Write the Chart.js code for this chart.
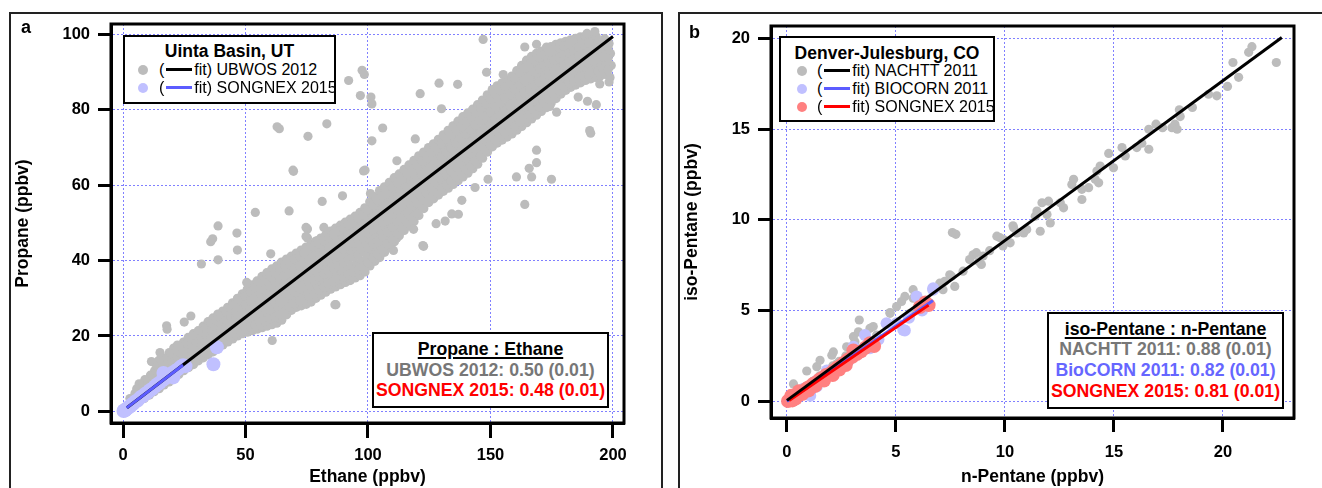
<!DOCTYPE html>
<html>
<head>
<meta charset="utf-8">
<script src="https://cdn.jsdelivr.net/npm/chart.js@4.4.0/dist/chart.umd.min.js"></script>
<style>
  body { margin: 0; background: #fff; width: 1322px; height: 488px; overflow: hidden; position: relative; font-family: "Liberation Sans", Arial, sans-serif; }
  .panel { position: absolute; border: 2px solid #222; border-bottom: none; box-sizing: border-box; }
  canvas { position: absolute; }
  .tag { position: absolute; font-weight: bold; font-size: 18px; line-height: 20px; }
  .key { position: absolute; border: 2px solid #000; background: #fff; box-sizing: border-box; }
  .key .ttl { position: absolute; left: 0; right: 0; text-align: center; font-weight: bold; font-size: 17.5px; line-height: 20px; white-space: nowrap; }
  .key .row { position: absolute; left: 0; right: 0; height: 18px; font-size: 16px; line-height: 18px; white-space: nowrap; }
  .key .dot { position: absolute; top: 4px; width: 10px; height: 10px; border-radius: 50%; }
  .key .txt { position: absolute; top: 0; }
  .seg { display: inline-block; width: 26px; height: 3px; vertical-align: middle; margin: 0 2px 2px 2px; }
  .ratio { position: absolute; border: 2px solid #000; background: #fff; box-sizing: border-box; font-weight: bold; font-size: 17.7px; }
  .ratio div { position: absolute; left: 0; right: 0; text-align: center; line-height: 20px; white-space: nowrap; }
</style>
</head>
<body>
<div class="panel" style="left:9px;top:12px;width:654px;height:480px"></div>
<div class="panel" style="left:678px;top:12px;width:660px;height:480px"></div>
<canvas id="chartA" width="650" height="474" style="left:11px;top:14px"></canvas>
<canvas id="chartB" width="642" height="474" style="left:680px;top:14px"></canvas>

<div class="tag" style="left:21px;top:17px">a</div>
<div class="tag" style="left:689px;top:22px">b</div>

<div class="key" style="left:123px;top:35px;width:213px;height:69px">
  <div class="ttl" style="top:4px">Uinta Basin, UT</div>
  <div class="row" style="top:24px"><span class="dot" style="left:13px;background:#bcbcbc"></span><span class="txt" style="left:34px">(<span class="seg" style="background:#000"></span>fit) UBWOS 2012</span></div>
  <div class="row" style="top:42px"><span class="dot" style="left:13px;background:#c0c0ff"></span><span class="txt" style="left:34px">(<span class="seg" style="background:#5c5cff"></span>fit) SONGNEX 2015</span></div>
</div>

<div class="key" style="left:779px;top:36px;width:216px;height:86px">
  <div class="ttl" style="top:5px">Denver-Julesburg, CO</div>
  <div class="row" style="top:24px"><span class="dot" style="left:16px;background:#bcbcbc"></span><span class="txt" style="left:36px">(<span class="seg" style="background:#000"></span>fit) NACHTT 2011</span></div>
  <div class="row" style="top:42px"><span class="dot" style="left:16px;background:#c0c0ff"></span><span class="txt" style="left:36px">(<span class="seg" style="background:#5c5cff"></span>fit) BIOCORN 2011</span></div>
  <div class="row" style="top:60px"><span class="dot" style="left:16px;background:#ff8080"></span><span class="txt" style="left:36px">(<span class="seg" style="background:#ff0000"></span>fit) SONGNEX 2015</span></div>
</div>

<div class="ratio" style="left:372px;top:332px;width:237px;height:76px">
  <div style="top:5px;text-decoration:underline;text-decoration-thickness:2px;text-underline-offset:2px">Propane : Ethane</div>
  <div style="top:25.5px;color:#777">UBWOS 2012: 0.50 (0.01)</div>
  <div style="top:46px;color:#ff0000">SONGNEX 2015: 0.48 (0.01)</div>
</div>

<div class="ratio" style="left:1047px;top:312px;width:237px;height:97px">
  <div style="top:5px;text-decoration:underline;text-decoration-thickness:2px;text-underline-offset:2px">iso-Pentane : n-Pentane</div>
  <div style="top:25px;color:#777">NACHTT 2011: 0.88 (0.01)</div>
  <div style="top:45.5px;color:#6666ff">BioCORN 2011: 0.82 (0.01)</div>
  <div style="top:66.5px;color:#ff0000">SONGNEX 2015: 0.81 (0.01)</div>
</div>

<script>
const FONT = '"Liberation Sans", Arial, sans-serif';

// panel a: propane vs ethane, Uinta Basin
const ethaneTicks = [0, 50, 100, 150, 200];
const propaneTicks = [0, 20, 40, 60, 80, 100];
const ubwosFit = [[1.6, 0.95], [200, 99.5]];
const songnexFitA = [[1.5, 0.9], [24.5, 12.3]];

const ubwos2012 = [
  [0.8,0.3],[1.2,0.9],[1.5,0.5],[2.0,1.2],[2.6,1.0],[3.0,1.8],[3.4,2.6],[2.8,3.4],
  [4.6,1.8],[5.1,2.6],[5.3,3.6],[4.9,4.8],[5.6,6.0],[6.8,2.6],[7.2,3.5],[7.0,4.6],[7.5,6.2],[6.6,7.3],
  [8.7,3.4],[9.2,4.5],[9.0,5.6],[9.4,7.0],[8.9,8.4],[10.8,4.3],[11.3,5.4],[11.0,6.6],[11.5,8.0],[11.2,9.6],
  [12.7,5.2],[13.2,6.3],[13.0,7.5],[13.4,9.0],[12.9,10.8],[13.6,12.4],
  [14.8,6.0],[15.3,7.2],[15.0,8.4],[15.5,10.0],[15.1,11.8],[14.6,13.5],
  [16.8,7.0],[17.3,8.2],[17.0,9.4],[17.6,11.0],[17.2,12.6],[16.7,14.2],
  [18.8,7.8],[19.3,9.2],[19.0,10.4],[19.5,12.0],[19.1,13.6],[18.9,15.6],
  [20.8,8.8],[21.2,10.2],[21.0,11.4],[21.5,13.0],[21.3,14.8],[20.7,16.8],
  [22.8,9.8],[23.3,11.0],[23.0,12.4],[23.5,14.0],[23.2,15.6],[22.6,17.4],
  [24.8,10.8],[25.3,12.0],[25.0,13.4],[25.5,15.0],[25.2,16.6],[24.7,18.4],
  [26.8,11.6],[27.3,13.0],[27.0,14.4],[27.6,16.0],[27.2,17.8],[26.6,19.6],
  [28.8,12.4],[29.3,14.0],[29.0,15.4],[29.6,17.0],[29.2,18.8],[28.7,20.6],
  [30.8,13.4],[31.3,15.0],[31.0,16.4],[31.6,18.0],[31.2,19.8],[30.7,21.4],
  [32.8,14.2],[33.3,15.8],[33.0,17.2],[33.6,19.0],[33.2,20.8],[32.7,22.6],
  [34.8,15.0],[35.3,16.8],[35.0,18.2],[35.6,20.0],[35.2,21.8],[34.7,23.8],
  [36.8,15.8],[37.3,17.6],[37.0,19.2],[37.6,21.0],[37.2,22.8],[36.7,24.8],
  [38.8,16.8],[39.3,18.6],[39.0,20.2],[39.6,22.0],[39.2,23.8],[38.7,25.8],
  [40.8,17.6],[41.3,19.4],[41.0,21.0],[41.6,22.8],[41.2,24.8],[40.7,26.6],
  [42.8,18.4],[43.3,20.2],[43.0,22.0],[43.6,23.8],[43.2,25.8],[42.7,27.6],
  [44.8,19.2],[45.3,21.2],[45.0,23.0],[45.6,24.8],[45.2,26.8],[44.7,28.8],
  [46.8,20.0],[47.3,22.0],[47.0,24.0],[47.6,25.8],[47.2,27.8],[46.7,30.0],
  [48.8,20.6],[49.3,22.8],[49.0,24.8],[49.6,26.8],[49.2,28.8],[48.7,31.2],
  [50.8,21.0],[51.3,23.4],[51.0,25.6],[51.6,27.8],[51.2,30.0],[50.7,32.4],
  [52.8,21.4],[53.3,24.0],[53.0,26.4],[53.6,28.6],[53.2,31.0],[52.7,33.6],
  [54.8,21.8],[55.3,24.6],[55.0,27.4],[55.6,29.6],[55.2,32.0],[54.7,34.6],
  [56.8,22.2],[57.3,25.2],[57.0,28.2],[57.6,30.4],[57.2,33.0],[56.7,35.8],
  [58.8,22.6],[59.3,25.8],[59.0,29.0],[59.6,31.4],[59.2,34.0],[58.7,36.8],
  [60.8,23.0],[61.3,26.6],[61.0,29.8],[61.6,32.4],[61.2,35.0],[60.7,37.8],
  [62.8,23.4],[63.3,27.4],[63.0,30.6],[63.6,33.4],[63.2,36.0],[62.7,38.6],
  [64.8,24.2],[65.3,28.0],[65.0,31.4],[65.6,34.2],[65.2,37.0],[64.7,39.6],
  [66.8,25.6],[67.3,28.8],[67.0,32.2],[67.6,35.0],[67.2,38.0],[66.7,40.4],
  [68.8,26.8],[69.3,29.6],[69.0,33.0],[69.6,36.0],[69.2,38.8],[68.7,41.2],
  [70.8,27.6],[71.3,30.4],[71.0,33.8],[71.6,36.8],[71.2,39.6],[70.7,42.0],
  [72.8,28.0],[73.3,31.2],[73.0,34.6],[73.6,37.6],[73.2,40.4],[72.7,42.8],
  [74.8,28.4],[75.3,32.0],[75.0,35.4],[75.6,38.6],[75.2,41.2],[74.7,43.6],
  [76.8,29.0],[77.3,32.6],[77.0,36.2],[77.6,39.4],[77.2,42.0],[76.7,44.4],
  [78.8,30.0],[79.3,33.4],[79.0,37.0],[79.6,40.2],[79.2,42.8],[78.7,45.2],
  [80.8,30.8],[81.3,34.2],[81.0,37.8],[81.6,41.0],[81.2,43.8],[80.7,46.0],
  [82.8,31.6],[83.3,35.0],[83.0,38.6],[83.6,41.8],[83.2,44.6],[82.7,46.8],
  [84.8,32.4],[85.3,35.8],[85.0,39.4],[85.6,42.6],[85.2,45.4],[84.7,47.8],
  [86.8,33.0],[87.3,36.4],[87.0,40.2],[87.6,43.4],[87.2,46.2],[86.7,48.6],
  [88.8,33.6],[89.3,37.0],[89.0,41.0],[89.6,44.2],[89.2,47.0],[88.7,49.4],
  [90.8,34.2],[91.3,37.8],[91.0,41.8],[91.6,45.0],[91.2,48.0],[90.7,50.2],
  [92.8,34.8],[93.3,38.4],[93.0,42.6],[93.6,45.8],[93.2,48.8],[92.7,51.0],
  [94.8,35.4],[95.3,39.2],[95.0,43.4],[95.6,46.6],[95.2,49.6],[94.7,51.8],
  [96.8,36.0],[97.3,39.8],[97.0,44.2],[97.6,47.4],[97.2,50.6],[96.7,52.8],
  [98.8,37.0],[99.3,40.6],[99.0,45.0],[99.6,48.4],[99.2,51.6],[98.7,54.0],
  [100.8,38.6],[101.3,41.6],[101.0,46.0],[101.6,49.4],[101.2,52.6],[100.7,55.6],
  [102.8,39.8],[103.3,42.6],[103.0,47.0],[103.6,50.4],[103.2,53.6],[102.7,57.0],
  [104.8,40.8],[105.3,43.8],[105.0,48.0],[105.6,51.4],[105.2,54.8],[104.7,58.6],
  [106.8,42.2],[107.3,45.0],[107.0,49.0],[107.6,52.4],[107.2,56.0],[106.7,59.6],
  [108.8,43.6],[109.3,46.4],[109.0,50.2],[109.6,53.6],[109.2,57.2],[108.7,60.8],
  [110.8,45.0],[111.3,47.8],[111.0,51.2],[111.6,54.6],[111.2,58.2],[110.7,62.0],
  [112.8,46.6],[113.3,49.2],[113.0,52.4],[113.6,55.6],[113.2,59.2],[112.7,63.0],
  [114.8,48.0],[115.3,50.6],[115.0,53.6],[115.6,56.8],[115.2,60.4],[114.7,64.2],
  [116.8,49.2],[117.3,52.0],[117.0,54.8],[117.6,58.0],[117.2,61.6],[116.7,65.4],
  [118.8,50.4],[119.3,53.2],[119.0,56.0],[119.6,59.2],[119.2,62.8],[118.7,66.6],
  [120.8,52.0],[121.3,54.6],[121.0,57.2],[121.6,60.4],[121.2,64.0],[120.7,67.8],
  [122.8,53.8],[123.3,56.0],[123.0,58.4],[123.6,61.6],[123.2,65.0],[122.7,68.8],
  [124.8,55.4],[125.3,57.4],[125.0,59.8],[125.6,62.8],[125.2,66.2],[124.7,70.0],
  [126.8,56.4],[127.3,58.6],[127.0,61.0],[127.6,64.0],[127.2,67.4],[126.7,71.0],
  [128.8,57.4],[129.3,59.8],[129.0,62.2],[129.6,65.2],[129.2,68.6],[128.7,72.2],
  [130.8,58.4],[131.3,61.0],[131.0,63.4],[131.6,66.4],[131.2,69.8],[130.7,73.4],
  [132.8,59.2],[133.3,62.0],[133.0,64.6],[133.6,67.6],[133.2,71.0],[132.7,74.6],
  [134.8,60.2],[135.3,63.0],[135.0,65.8],[135.6,68.8],[135.2,72.2],[134.7,75.8],
  [136.8,61.2],[137.3,64.0],[137.0,67.0],[137.6,70.0],[137.2,73.4],[136.7,77.0],
  [138.8,62.2],[139.3,65.0],[139.0,68.2],[139.6,71.2],[139.2,74.6],[138.7,78.2],
  [140.8,63.2],[141.3,66.0],[141.0,69.4],[141.6,72.4],[141.2,75.8],[140.7,79.2],
  [142.8,64.4],[143.3,67.2],[143.0,70.6],[143.6,73.6],[143.2,77.0],[142.7,80.2],
  [144.8,65.6],[145.3,68.4],[145.0,71.6],[145.6,74.8],[145.2,78.2],[144.7,81.4],
  [146.8,67.2],[147.3,69.8],[147.0,72.8],[147.6,76.0],[147.2,79.4],[146.7,82.6],
  [148.8,68.8],[149.3,71.2],[149.0,74.0],[149.6,77.2],[149.2,80.6],[148.7,84.0],
  [150.8,70.2],[151.3,72.6],[151.0,75.2],[151.6,78.4],[151.2,81.8],[150.7,85.4],
  [152.8,71.2],[153.3,73.8],[153.0,76.4],[153.6,79.6],[153.2,83.0],[152.7,86.4],
  [154.8,72.0],[155.3,74.8],[155.0,77.6],[155.6,80.8],[155.2,84.2],[154.7,87.2],
  [156.8,72.8],[157.3,75.8],[157.0,78.8],[157.6,82.0],[157.2,85.4],[156.7,88.0],
  [158.8,73.6],[159.3,76.8],[159.0,80.0],[159.6,83.2],[159.2,86.6],[158.7,89.0],
  [160.8,74.6],[161.3,77.8],[161.0,81.2],[161.6,84.4],[161.2,87.8],[160.7,90.4],
  [162.8,75.6],[163.3,78.8],[163.0,82.2],[163.6,85.6],[163.2,89.0],[162.7,91.8],
  [164.8,76.6],[165.3,79.8],[165.0,83.2],[165.6,86.8],[165.2,90.2],[164.7,93.2],
  [166.8,77.6],[167.3,80.8],[167.0,84.2],[167.6,87.8],[167.2,91.2],[166.7,94.2],
  [168.8,78.6],[169.3,81.8],[169.0,85.2],[169.6,88.8],[169.2,92.2],[168.7,95.0],
  [170.8,79.6],[171.3,82.8],[171.0,86.2],[171.6,89.6],[171.2,93.0],[170.7,95.6],
  [172.8,80.6],[173.3,83.8],[173.0,87.2],[173.6,90.4],[173.2,93.8],[172.7,96.2],
  [174.8,81.8],[175.3,85.0],[175.0,88.2],[175.6,91.2],[175.2,94.4],[174.7,96.8],
  [176.8,83.0],[177.3,86.0],[177.0,89.2],[177.6,92.0],[177.2,95.0],[176.7,97.4],
  [178.8,84.2],[179.3,87.0],[179.0,90.0],[179.6,92.8],[179.2,95.6],[178.7,97.8],
  [180.8,85.2],[181.3,88.0],[181.0,90.8],[181.6,93.6],[181.2,96.2],[180.7,98.2],
  [182.8,86.0],[183.3,88.8],[183.0,91.6],[183.6,94.4],[183.2,96.8],[182.7,98.6],
  [184.8,86.6],[185.3,89.4],[185.0,92.4],[185.6,95.2],[185.2,97.4],[184.7,99.0],
  [186.8,87.2],[187.3,90.0],[187.0,93.2],[187.6,96.0],[187.2,98.0],[186.7,99.4],
  [188.8,87.8],[189.3,90.6],[189.0,93.8],[189.6,96.6],[189.2,98.6],[188.7,99.6],
  [190.8,88.2],[191.3,91.0],[191.0,94.4],[191.6,97.0],[191.2,99.0],
  [192.8,88.6],[193.3,91.6],[193.0,95.0],[193.6,97.4],[193.2,99.4],
  [194.8,89.0],[195.3,92.2],[195.0,95.6],[195.6,97.8],
  [196.8,89.4],[197.3,92.6],[197.0,96.0],[197.6,98.2],
  [198.8,88.6],[199.3,91.8],[199.0,95.0],[198.4,97.6],
  // scattered points away from the main band
  [69.6,63.7],[98.8,64.0],[101.0,57.8],[81.3,55.7],[67.8,53.2],[54.0,52.8],[38.8,49.2],[46.5,47.3],
  [35.8,45.0],[36.6,45.8],[46.7,42.8],[38.8,40.2],[32.0,39.1],[60.3,41.8],[75.3,48.4],[75.3,46.0],
  [79.4,45.3],[50.5,34.2],[45.8,28.8],[49.7,31.1],[27.7,25.3],[25.0,23.7],[17.8,22.7],[18.0,21.8],
  [22.2,17.6],[15.1,15.6],[11.6,13.2],[60.9,18.8],[86.9,28.3],[92.6,34.7],[95.8,37.3],
  [147.0,98.7],[164.0,96.7],[168.8,97.4],[172.9,96.7],[178.0,96.7],[192.5,100.0],[189.0,99.4],[196.6,98.9],
  [198.4,91.8],[198.4,87.4],[194.6,86.9],[193.2,81.4],[189.6,82.3],[185.8,83.4],[190.5,74.5],[190.9,73.8],
  [177.0,79.4],[174.2,80.9],[171.5,81.6],[168.8,69.3],[168.8,66.0],[165.8,64.5],[166.8,62.2],[160.6,62.2],
  [174.9,61.6],[164.0,54.9],[155.2,89.4],[148.4,90.0],[136.6,86.8],[129.0,87.1],[121.3,84.3],[92.1,87.8],
  [97.6,90.5],[98.5,89.4],[96.9,83.8],[101.2,83.4],[101.6,81.6],[130.0,80.3],[106.0,75.2],[101.6,71.8],
  [119.3,72.3],[111.8,66.5],[98.2,63.8],[89.6,57.2],[149.0,61.6],[143.7,59.4],[138.3,56.0],[134.2,52.4],
  [136.9,52.3],[131.5,50.5],[127.8,49.8],[122.7,43.8],[118.6,48.3],[111.8,46.0],[110.4,42.7],[100.3,40.7],
  [105.3,42.0],[122.4,44.0],[86.5,28.3],[62.9,75.5],[63.8,75.0],[75.5,73.0],[83.2,76.3],[69.4,64.0],
  [74.7,48.8],[74.7,46.4],[82.0,48.8],[189.4,100.3],[192.6,100.8]
];

// extra UBWOS readings filling the dense core: [ethane, [propane values]]
const ubwosCoreRows = [
  [4,[1.8,2.6,3.5]],[6,[2.6,3.5,4.7,6.0]],[8,[3.5,4.5,5.8,7.2]],[10,[4.3,5.4,6.7,8.1]],
  [12,[5.2,6.4,7.7,9.3]],[14,[6.1,7.3,8.7,10.3,12.0]],[16,[7.1,8.3,9.7,11.3,13.0]],
  [18,[8.0,9.3,10.7,12.3,14.0]],[20,[9.0,10.3,11.7,13.3,15.2]],[22,[9.9,11.2,12.7,14.3,16.1]],
  [24,[10.9,12.2,13.7,15.3,17.0]],[26,[11.8,13.2,14.7,16.3,18.1]],[28,[12.7,14.2,15.7,17.4,19.2]],
  [30,[13.7,15.2,16.7,18.4,20.1]],[32,[14.6,16.1,17.6,19.4,21.1]],[34,[15.4,17.0,18.6,20.4,22.2]],
  [36,[16.3,17.9,19.6,21.4,23.3]],[38,[17.2,18.9,20.6,22.4,24.3]],[40,[18.1,19.8,21.5,23.3,25.2]],
  [42,[18.9,20.6,22.4,24.3,26.2]],[44,[19.7,21.6,23.4,25.3,27.2]],[46,[20.6,22.5,24.4,26.3,28.3]],
  [48,[21.3,23.4,25.3,27.3,29.4]],[50,[21.9,24.1,26.2,28.3,30.6]],[52,[22.4,24.8,27.1,29.3,31.7]],
  [54,[22.9,25.6,28.0,30.3,32.8]],[56,[23.4,26.3,28.9,31.2,33.8]],[58,[23.9,27.0,29.7,32.2,34.9]],
  [60,[24.5,27.8,30.6,33.2,35.9]],[62,[25.1,28.6,31.5,34.2,36.8]],[64,[25.7,29.3,32.4,35.1,37.8]],
  [66,[26.6,30.1,33.2,36.0,38.7]],[68,[27.7,30.9,34.0,36.9,39.6]],[70,[28.6,31.7,34.9,37.8,40.4]],
  [72,[29.3,32.5,35.7,38.6,41.2]],[74,[29.9,33.3,36.5,39.4,42.0]],[76,[30.5,34.0,37.4,40.3,42.8]],
  [78,[31.2,34.8,38.2,41.1,43.6]],[80,[32.1,35.6,39.0,41.9,44.4]],[82,[32.9,36.4,39.8,42.8,45.3]],
  [84,[33.7,37.2,40.6,43.6,46.1]],[86,[34.4,37.9,41.4,44.4,47.0]],[88,[35.0,38.6,42.2,45.2,47.8]],
  [90,[35.6,39.4,43.0,46.0,48.6]],[92,[36.3,40.1,43.8,46.9,49.5]],[94,[36.9,40.9,44.6,47.7,50.3]],
  [96,[37.6,41.6,45.4,48.5,51.2]],[98,[38.3,42.4,46.2,49.5,52.2]],[100,[39.4,43.3,47.2,50.5,53.4]],
  [102,[40.6,44.3,48.2,51.5,54.7]],[104,[41.7,45.3,49.2,52.5,56.0]],[106,[42.9,46.4,50.2,53.6,57.2]],
  [108,[44.3,47.6,51.3,54.8,58.4]],[110,[45.7,48.9,52.4,55.9,59.5]],[112,[47.1,50.1,53.4,56.9,60.6]],
  [114,[48.6,51.4,54.6,58.0,61.7]],[116,[49.9,52.7,55.8,59.2,62.9]],[118,[51.2,54.0,57.0,60.4,64.1]],
  [120,[52.5,55.2,58.2,61.6,65.3]],[122,[54.1,56.5,59.4,62.7,66.4]],[124,[55.6,57.9,60.6,63.9,67.5]],
  [126,[56.9,59.2,61.9,65.1,68.6]],[128,[58.0,60.4,63.1,66.3,69.8]],[130,[59.1,61.6,64.3,67.5,71.0]],
  [132,[60.1,62.7,65.5,68.7,72.2]],[134,[61.1,63.8,66.7,69.9,73.4]],[136,[62.1,64.9,67.9,71.1,74.6]],
  [138,[63.1,66.0,69.1,72.3,75.8]],[140,[64.1,67.1,70.3,73.5,76.9]],[142,[65.2,68.3,71.5,74.7,78.0]],
  [144,[66.4,69.4,72.6,75.9,79.2]],[146,[67.7,70.6,73.8,77.1,80.4]],[148,[69.2,71.9,75.0,78.3,81.6]],
  [150,[70.7,73.2,76.2,79.5,82.9]],[152,[71.9,74.5,77.4,80.7,84.1]],[154,[72.9,75.6,78.6,81.9,85.2]],
  [156,[73.8,76.7,79.8,83.1,86.2]],[158,[74.7,77.8,81.0,84.3,87.2]],[160,[75.7,78.9,82.2,85.5,88.4]],
  [162,[76.7,80.0,83.3,86.7,89.7]],[164,[77.7,81.0,84.4,87.9,91.0]],[166,[78.7,82.0,85.5,89.0,92.2]],
  [168,[79.7,83.0,86.5,90.0,93.1]],[170,[80.7,84.0,87.4,90.9,93.9]],[172,[81.7,85.0,88.3,91.7,94.6]],
  [174,[82.8,86.0,89.2,92.4,95.3]],[176,[83.9,87.1,90.1,93.1,95.9]],[178,[85.0,88.0,91.0,93.8,96.4]],
  [180,[86.1,88.9,91.8,94.6,96.9]],[182,[87.0,89.8,92.6,95.2,97.4]],[184,[87.7,90.5,93.4,95.9,97.9]],
  [186,[88.3,91.2,94.2,96.6]],[188,[88.9,91.9,94.9,97.3]],[190,[89.4,92.4,95.4,97.8]],
  [192,[89.8,93.0,95.9]],[194,[90.3,93.6,96.4]],[196,[90.8,94.1,96.9]],[198,[90.6,93.7,96.6]]
];

const songnexA2015 = [
  [0.2,0.1],[0.5,0.3],[0.8,0.2],[1.2,0.5],[1.5,0.7],[2.0,0.9],[2.5,1.2],[3.0,1.3],[3.5,1.8],[4.2,2.0],
  [5.0,2.6],[5.8,2.8],[6.5,3.3],[7.3,3.8],[8.0,4.0],[9.0,4.6],[10.0,5.0],[11.0,5.6],[12.0,6.0],[13.0,6.6],
  [14.0,7.2],[15.0,7.6],[16.0,8.2],[16.5,10.2],[17.0,8.6],[18.0,9.2],[19.0,9.6],[20.0,10.2],[20.5,9.0],
  [21.5,10.8],[22.5,11.2],[23.5,11.8],[24.5,12.2],[25.5,12.0],[36.9,12.5],[38.3,17.0]
];

// panel b: iso-pentane vs n-pentane, Denver-Julesburg
const nPentaneTicks = [0, 5, 10, 15, 20];
const isoPentaneTicks = [0, 5, 10, 15, 20];
const nachttFit = [[0, 0.05], [22.7, 20.05]];
const biocornFit = [[0, 0], [6.7, 5.55]];
const songnexFitB = [[0.1, 0.05], [6.5, 5.3]];

const nachtt2011 = [
  [0.3,0.35],[0.6,0.6],[0.9,0.85],[1.2,1.1],[1.5,1.4],[1.8,1.65],[2.1,1.95],[2.4,2.2],[2.7,2.5],[3.0,2.8],
  [0.3,0.96],[0.91,1.67],[1.37,1.91],[1.52,2.26],[2.06,2.54],[2.13,2.72],[2.29,2.07],[2.74,3.0],[3.05,3.56],
  [3.12,3.28],[3.28,3.83],[3.32,4.48],[3.81,4.02],[3.96,4.12],[4.12,3.65],[4.73,4.85],[4.73,4.89],[5.03,5.22],
  [5.26,5.5],[5.41,5.78],[5.64,4.85],[5.79,5.68],[5.79,6.15],[7.01,6.51],[7.16,6.15],[7.24,6.61],[7.47,6.97],
  [7.55,6.89],[7.7,6.33],[8.08,7.17],[8.38,7.81],[8.54,8.07],[8.69,8.19],[8.92,7.54],[8.8,7.7],[9.0,8.0],[9.3,8.3],
  [7.59,9.3],[7.75,9.2],[9.76,9.02],[9.91,8.56],[10.37,9.67],[9.63,9.1],[9.94,8.91],[10.24,8.73],[10.4,9.56],
  [10.55,9.28],[10.86,9.28],[11.0,9.47],[11.62,9.37],[11.93,10.29],[12.08,9.83],[11.39,10.2],[11.47,10.48],
  [11.7,10.94],[12.0,11.03],[12.54,10.94],[12.69,10.66],[13.07,11.95],[13.15,12.23],[13.53,11.12],[13.53,11.68],
  [13.84,11.77],[14.14,12.23],[14.3,12.04],[14.22,12.69],[14.37,12.96],[14.98,12.87],[14.76,13.66],[15.37,13.98],
  [15.52,13.52],[16.05,13.98],[16.28,14.22],[16.6,13.89],[16.6,14.99],[16.93,15.27],[17.23,15.08],[17.66,15.08],
  [17.8,15.27],[17.9,14.99],[18.0,16.06],[18.04,15.69],[18.6,16.19],[19.34,16.92],[19.72,16.83],[20.21,17.35],
  [20.72,17.85],[20.46,18.67],[21.18,19.23],[21.33,19.54],[22.45,18.67]
];

const biocorn2011 = [
  [0.15,0.13],[0.3,0.26],[0.46,0.22],[0.76,0.44],[0.76,0.69],[1.07,0.31],[1.07,0.53],[1.37,0.81],[1.37,1.15],
  [1.6,1.2],[2.0,1.45],[1.83,1.7],[2.3,1.7],[2.8,2.2],[3.05,3.0],[3.66,3.0],[3.58,3.65],[3.81,2.92],[4.2,3.4],
  [4.57,4.3],[5.03,4.3],[5.34,3.93],[5.41,3.9],[5.6,4.6],[5.95,5.78],[6.2,5.0],[6.71,6.15],[6.71,6.23]
];

const songnexB2015 = [
  [0.05,0.02],[0.15,0.1],[0.25,0.05],[0.3,0.25],[0.2,0.3],[0.4,0.15],[0.45,0.3],[0.55,0.55],[0.6,0.42],
  [0.7,0.4],[0.75,0.55],[0.9,0.7],[1.0,0.6],[1.05,0.8],[1.2,0.95],[1.3,0.85],[1.35,1.05],[1.5,1.2],
  [1.65,1.3],[1.7,1.15],[1.8,1.45],[2.0,1.55],[2.1,1.45],[2.15,1.7],[2.3,1.85],[2.4,1.75],[2.5,2.0],
  [2.65,2.15],[2.7,2.0],[2.8,2.3],[3.0,2.45],[3.05,2.8],[3.2,2.6],[3.4,2.75],[3.6,2.95],[3.81,3.2],
  [3.9,3.15],[4.0,3.05],[6.1,5.2],[6.35,5.45],[6.5,5.3]
];

const ubwosAll = ubwos2012.concat(...ubwosCoreRows.map(([x, ys]) => ys.map(y => [x, y])));

const frame = {
  id: 'frame',
  afterDraw(chart) {
    const { ctx, chartArea: a } = chart;
    ctx.save();
    ctx.strokeStyle = '#000';
    ctx.lineWidth = 3;
    ctx.strokeRect(a.left, a.top, a.right - a.left, a.bottom - a.top);
    ctx.restore();
  }
};

function axis(min, max, ticks, title, vertical, extent, tickLen, pad, titlePad) {
  return {
    type: 'linear',
    min, max,
    afterBuildTicks: s => { s.ticks = ticks.map(v => ({ value: v })); },
    afterFit: s => {
      if (vertical) s.width = extent; else s.height = extent;
      s.paddingTop = 0; s.paddingBottom = 0; s.paddingLeft = 0; s.paddingRight = 0;
    },
    grid: { color: '#8080ff', lineWidth: 1, tickColor: '#000', tickWidth: 3, tickLength: tickLen },
    border: { display: true, color: '#000', width: 3, dash: [2, 2] },
    ticks: { color: '#000', font: { family: FONT, size: 16.5, weight: 'bold' }, padding: pad, autoSkip: false, maxRotation: 0 },
    title: { display: true, text: title, color: '#000', font: { family: FONT, size: 17.5, weight: 'bold' }, padding: { top: titlePad, bottom: titlePad } }
  };
}

function pts(data, color, r) {
  return { data, showLine: false, pointRadius: r, pointBackgroundColor: color, pointBorderWidth: 0, pointHoverRadius: r };
}

function fit(data, color) {
  return { data, showLine: true, borderColor: color, borderWidth: 3, pointRadius: 0, fill: false };
}

function baseOptions(padding, xAxis, yAxis) {
  return {
    responsive: false,
    animation: false,
    events: [],
    devicePixelRatio: 1,
    layout: { padding },
    plugins: { legend: { display: false }, tooltip: { enabled: false } },
    scales: { x: xAxis, y: yAxis }
  };
}

new Chart(document.getElementById('chartA'), {
  type: 'scatter',
  data: {
    datasets: [
      fit(songnexFitA, '#5c5cff'),
      fit(ubwosFit, '#000'),
      pts(songnexA2015, '#c0c0ff', 7),
      pts(ubwosAll, '#bcbcbc', 4.6)
    ]
  },
  options: baseOptions(
    { left: 0, top: 10, right: 37, bottom: 0 },
    axis(-4.9, 204.5, ethaneTicks, 'Ethane (ppbv)', false, 65, 15, 8, 0),
    axis(-3.1, 102.8, propaneTicks, 'Propane (ppbv)', true, 100, 13, 8, 2)
  ),
  plugins: [frame]
});

new Chart(document.getElementById('chartB'), {
  type: 'scatter',
  data: {
    datasets: [
      fit(nachttFit, '#000'),
      fit(songnexFitB, '#ff0000'),
      fit(biocornFit, '#5c5cff'),
      pts(songnexB2015, '#ff8080', 7),
      pts(biocorn2011, '#c0c0ff', 6),
      pts(nachtt2011, '#bcbcbc', 4.6)
    ]
  },
  options: baseOptions(
    { left: 0, top: 12, right: 28, bottom: 0 },
    axis(-0.73, 23.26, nPentaneTicks, 'n-Pentane (ppbv)', false, 70, 14, 11, 0),
    axis(-0.92, 20.68, isoPentaneTicks, 'iso-Pentane (ppbv)', true, 91, 13, 8, 1.5)
  ),
  plugins: [frame]
});
</script>
</body>
</html>
